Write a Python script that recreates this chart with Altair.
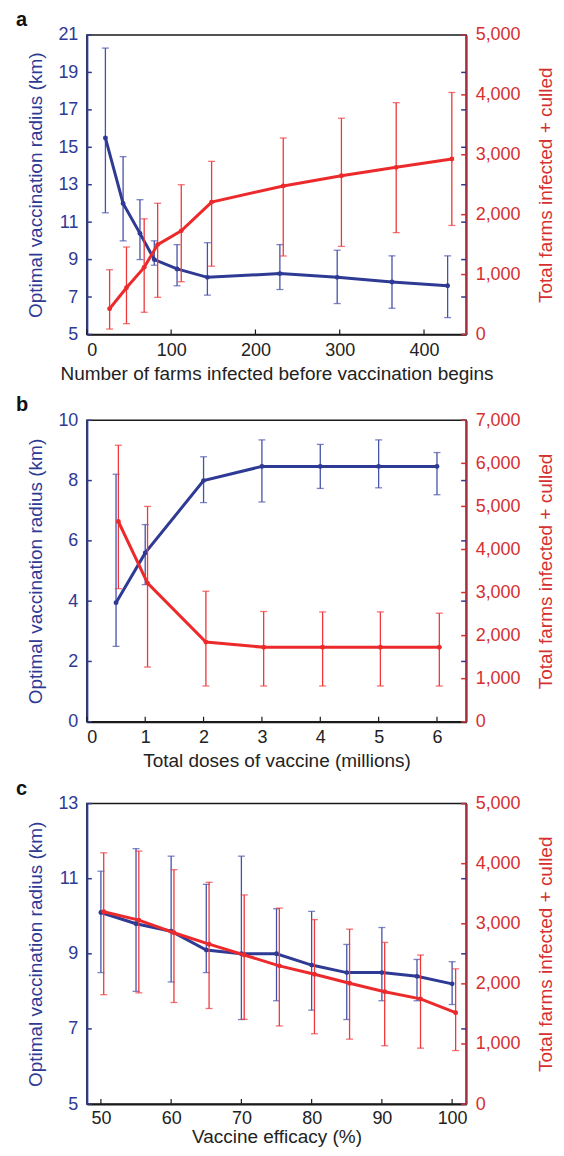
import altair as alt
import pandas as pd

FONT = "Liberation Sans"
BLUE = "#2E3A94"
BLUE_E = "#4652AA"
RED = "#EC2A2C"
RED_E = "#F0383A"
RED_TXT = "#D5302F"
RED_AX = "#A2303F"

# ---------------- panel a ----------------
a_x_blue = [22, 43, 63, 80, 107, 143, 229, 297, 362, 428]
a_radius = [15.5, 12.0, 10.4, 9.0, 8.5, 8.05, 8.25, 8.05, 7.8, 7.6]
a_radius_lo = [11.5, 10.0, 9.0, 8.7, 7.6, 7.1, 7.4, 6.65, 6.4, 5.9]
a_radius_hi = [20.3, 14.5, 12.2, 10.0, 9.8, 9.9, 9.8, 9.5, 9.2, 9.2]
a_x_red = [27, 47, 68, 84, 112, 148, 233, 302, 367, 433]
a_farms = [430, 780, 1120, 1500, 1730, 2210, 2480, 2650, 2790, 2930]
a_farms_lo = [90, 180, 370, 620, 880, 1140, 1310, 1470, 1700, 1820]
a_farms_hi = [1080, 1460, 1930, 2190, 2500, 2890, 3280, 3610, 3870, 4040]
a_xticks = [0, 100, 200, 300, 400]
a_bticks = [5, 7, 9, 11, 13, 15, 17, 19, 21]
a_rticks = [0, 1000, 2000, 3000, 4000, 5000]

# ---------------- panel b ----------------
b_x_blue = [0.5, 1, 2, 3, 4, 5, 6]
b_radius = [3.95, 5.6, 8.0, 8.47, 8.47, 8.47, 8.47]
b_radius_lo = [2.5, 4.55, 7.27, 7.29, 7.74, 7.76, 7.53]
b_radius_hi = [8.21, 6.54, 8.79, 9.35, 9.2, 9.35, 8.93]
b_x_red = [0.54, 1.04, 2.04, 3.03, 4.04, 5.03, 6.04]
b_farms = [4650, 3220, 1850, 1730, 1730, 1730, 1730]
b_farms_lo = [3090, 1270, 830, 830, 830, 830, 830]
b_farms_hi = [6420, 5000, 3030, 2560, 2550, 2550, 2520]
b_xticks = [0, 1, 2, 3, 4, 5, 6]
b_bticks = [0, 2, 4, 6, 8, 10]
b_rticks = [0, 1000, 2000, 3000, 4000, 5000, 6000, 7000]

# ---------------- panel c ----------------
c_x_blue = [50, 55, 60, 65, 70, 75, 80, 85, 90, 95, 100]
c_radius = [10.1, 9.8, 9.6, 9.1, 9.0, 9.0, 8.7, 8.5, 8.5, 8.4, 8.2]
c_radius_lo = [8.5, 8.0, 8.25, 8.5, 7.25, 7.75, 7.5, 7.25, 7.75, 7.75, 7.65]
c_radius_hi = [11.2, 11.8, 11.6, 10.85, 11.6, 10.2, 10.13, 9.25, 9.7, 8.85, 8.79]
c_x_red = [50.4, 55.4, 60.4, 65.4, 70.4, 75.4, 80.4, 85.4, 90.4, 95.5, 100.5]
c_farms = [3200, 3060, 2850, 2660, 2480, 2300, 2160, 2010, 1870, 1750, 1520]
c_farms_lo = [1820, 1850, 1690, 1590, 1410, 1300, 1170, 1080, 970, 930, 890]
c_farms_hi = [4180, 4210, 3900, 3690, 3480, 3260, 3070, 2910, 2690, 2480, 2250]
c_xticks = [50, 60, 70, 80, 90, 100]
c_bticks = [5, 7, 9, 11, 13]
c_rticks = [0, 1000, 2000, 3000, 4000, 5000]

LEFT_TITLE = "Optimal vaccination radius (km)"
RIGHT_TITLE = "Total farms infected + culled"

W = 380
LFS = 18
TFS = 19


def panel(label, xb, rad, rlo, rhi, xr, fa, flo, fhi,
          xdom, xticks, bdom, bticks, rdom, rticks, xtitle, H, xtp=5, xlp=7):
    dfb = pd.DataFrame({"x": xb, "v": rad, "lo": rlo, "hi": rhi})
    dfr = pd.DataFrame({"x": xr, "v": fa, "lo": flo, "hi": fhi})
    dbt = pd.DataFrame({"t": bticks})
    drt = pd.DataFrame({"t": rticks})
    dxt = pd.DataFrame({"t": xticks})

    xscale = alt.Scale(domain=xdom, nice=False, zero=False)
    xaxis = alt.Axis(values=xticks, title=xtitle, tickSize=0, labelPadding=xlp,
                     grid=False, domainColor="#1a1a1a", domainWidth=1.8,
                     labelColor="#222222", titleColor="#222222",
                     labelFontSize=LFS, titleFontSize=TFS, titleFontWeight="normal",
                     titlePadding=xtp, labelFont=FONT, titleFont=FONT)
    bscale = alt.Scale(domain=bdom, nice=False, zero=False)
    baxis = alt.Axis(orient="left", values=bticks, title=LEFT_TITLE, tickSize=0,
                     labelPadding=9, grid=False, domainColor=BLUE, domainWidth=2,
                     labelColor=BLUE, titleColor=BLUE, labelFontSize=LFS,
                     titleFontSize=TFS, titleFontWeight="normal", titleX=-51,
                     titleBaseline="middle", labelFont=FONT, titleFont=FONT)
    rscale = alt.Scale(domain=rdom, nice=False, zero=False)
    raxis = alt.Axis(orient="right", values=rticks, format=",d", title=RIGHT_TITLE,
                     tickSize=0, labelPadding=9, grid=False, domainColor=RED_AX,
                     domainWidth=2, labelColor=RED_TXT, titleColor=RED_TXT,
                     labelFontSize=LFS, titleFontSize=TFS, titleFontWeight="normal",
                     titleAngle=270, titleX=79, titleBaseline="middle",
                     labelFont=FONT, titleFont=FONT)

    X = lambda f: alt.X(f, scale=xscale, axis=xaxis)
    YB = lambda f: alt.Y(f, scale=bscale, axis=baxis)
    YR = lambda f: alt.Y(f, scale=rscale, axis=raxis)

    bb = alt.Chart(dfb)
    blue = alt.layer(
        bb.mark_rule(color=BLUE_E, strokeWidth=1.3).encode(x=X("x:Q"), y=YB("lo:Q"), y2="hi:Q"),
        bb.mark_tick(color=BLUE_E, orient="horizontal", size=7, thickness=1.3).encode(x=X("x:Q"), y=YB("lo:Q")),
        bb.mark_tick(color=BLUE_E, orient="horizontal", size=7, thickness=1.3).encode(x=X("x:Q"), y=YB("hi:Q")),
        bb.mark_line(color=BLUE, strokeWidth=3).encode(x=X("x:Q"), y=YB("v:Q")),
        bb.mark_circle(color=BLUE, size=24, opacity=1).encode(x=X("x:Q"), y=YB("v:Q")),
        alt.Chart(dbt).mark_rule(color=BLUE, strokeWidth=1.5).encode(
            y=YB("t:Q"), x=alt.value(0), x2=alt.value(5)),
        alt.Chart(dbt).mark_rule(color=BLUE, strokeWidth=1.5).encode(
            y=YB("t:Q"), x=alt.value(W - 5), x2=alt.value(W)),
        alt.Chart(dxt).mark_rule(color="#1a1a1a", strokeWidth=1.2).encode(
            x=X("t:Q"), y=alt.value(H - 5), y2=alt.value(H)),
    )
    rr = alt.Chart(dfr)
    red = alt.layer(
        rr.mark_rule(color=RED_E, strokeWidth=1.3).encode(x=X("x:Q"), y=YR("lo:Q"), y2="hi:Q"),
        rr.mark_tick(color=RED_E, orient="horizontal", size=7, thickness=1.3).encode(x=X("x:Q"), y=YR("lo:Q")),
        rr.mark_tick(color=RED_E, orient="horizontal", size=7, thickness=1.3).encode(x=X("x:Q"), y=YR("hi:Q")),
        rr.mark_line(color=RED, strokeWidth=3).encode(x=X("x:Q"), y=YR("v:Q")),
        rr.mark_circle(color=RED, size=24, opacity=1).encode(x=X("x:Q"), y=YR("v:Q")),
        alt.Chart(drt).mark_rule(color=RED_TXT, strokeWidth=1.5).encode(
            y=YR("t:Q"), x=alt.value(W - 5), x2=alt.value(W)),
    )
    return alt.layer(blue, red).resolve_scale(y="independent").properties(
        width=W, height=H,
        title=alt.TitleParams(label, anchor="start", frame="group", fontSize=20,
                              fontWeight="bold", font=FONT, color="#111111",
                              dx=-71, offset=-4),
    )


pa = panel("a", a_x_blue, a_radius, a_radius_lo, a_radius_hi, a_x_red, a_farms,
           a_farms_lo, a_farms_hi, [0, 450], a_xticks, [5, 21], a_bticks,
           [0, 5000], a_rticks, "Number of farms infected before vaccination begins", 300)
pb = panel("b", b_x_blue, b_radius, b_radius_lo, b_radius_hi, b_x_red, b_farms,
           b_farms_lo, b_farms_hi, [0, 6.5], b_xticks, [0, 10], b_bticks,
           [0, 7000], b_rticks, "Total doses of vaccine (millions)", 302)
pc = panel("c", c_x_blue, c_radius, c_radius_lo, c_radius_hi, c_x_red, c_farms,
           c_farms_lo, c_farms_hi, [48, 102], c_xticks, [5, 13], c_bticks,
           [0, 5000], c_rticks, "Vaccine efficacy (%)", 301, xtp=1, xlp=5)

chart = alt.vconcat(alt.vconcat(pa, pb, spacing=10), pc, spacing=6).properties(
    padding={"left": 7, "top": 0, "right": 0, "bottom": 0},
    background="white",
).configure_view(stroke="#1a1a1a", strokeWidth=1.5).configure_axis(
    labelFont=FONT, titleFont=FONT
)

chart.save("out.html", embed_options={"renderer": "svg", "actions": False})
